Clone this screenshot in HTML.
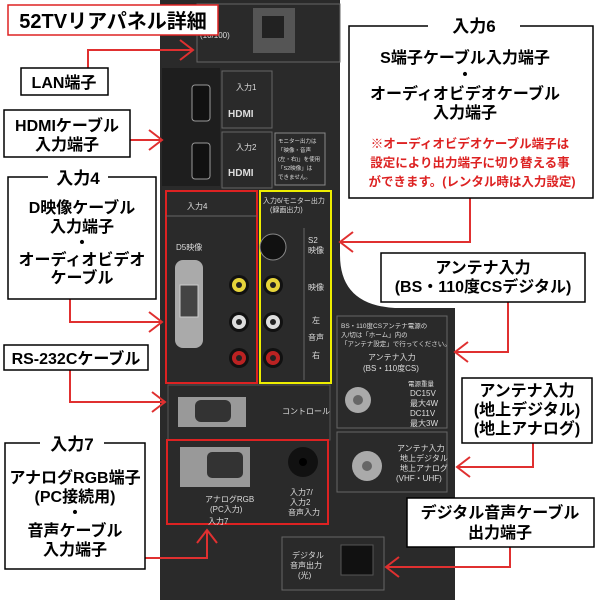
<!DOCTYPE html>
<html><head><meta charset="utf-8"><style>
html,body{margin:0;padding:0;background:#fff;}
svg{display:block;}
text{font-family:"Liberation Sans","Noto Sans CJK JP",sans-serif;}
.b{font-weight:bold;fill:#000;}
.w{fill:#ddd;font-size:8px;}
</style></head><body>
<svg width="600" height="600" viewBox="0 0 600 600" xmlns="http://www.w3.org/2000/svg">
<path d="M160 0 H340 V255 Q340 305 395 308 H455 V600 H160 Z" fill="#2a2a2a"/>
<rect x="197" y="4" width="143" height="58" fill="none" stroke="#666"/>
<text x="200" y="28" class="w">LAN</text><text x="200" y="38" class="w">(10/100)</text>
<rect x="253" y="8" width="42" height="45" fill="#555"/><rect x="262" y="16" width="22" height="22" fill="#222"/>
<rect x="162" y="68" width="58" height="118" fill="#1e1e1e"/>
<rect x="192" y="85" width="18" height="36" rx="3" fill="#111" stroke="#999"/>
<rect x="192" y="143" width="18" height="36" rx="3" fill="#111" stroke="#999"/>
<rect x="222" y="71" width="50" height="57" fill="none" stroke="#666"/>
<rect x="222" y="132" width="50" height="56" fill="none" stroke="#666"/>
<text x="236" y="90" class="w">入力1</text><text x="228" y="117" style="fill:#ddd;font-size:10px;font-weight:bold">HDMI</text>
<text x="236" y="150" class="w">入力2</text><text x="228" y="176" style="fill:#ddd;font-size:10px;font-weight:bold">HDMI</text>
<rect x="275" y="133" width="50" height="52" fill="none" stroke="#888"/>
<text x="278" y="143" style="fill:#ddd;font-size:5.5px">モニター出力は</text>
<text x="278" y="152" style="fill:#ddd;font-size:5.5px">「映像・音声</text>
<text x="278" y="161" style="fill:#ddd;font-size:5.5px">(左・右)」を使用</text>
<text x="278" y="170" style="fill:#ddd;font-size:5.5px">「S2映像」は</text>
<text x="278" y="179" style="fill:#ddd;font-size:5.5px">できません。</text>
<rect x="166" y="191" width="91" height="192" fill="none" stroke="#d22" stroke-width="2"/>
<line x1="166" y1="216" x2="257" y2="216" stroke="#666"/>
<text x="187" y="209" class="w">入力4</text>
<text x="176" y="250" class="w">D5映像</text>
<rect x="175" y="260" width="28" height="88" rx="8" fill="#aaa"/>
<rect x="180" y="285" width="18" height="32" fill="#444" stroke="#ccc"/>
<circle cx="239" cy="285" r="10" fill="#111"/><circle cx="239" cy="285" r="7" fill="#e6d43a"/><circle cx="239" cy="285" r="3" fill="#222"/>
<circle cx="239" cy="322" r="10" fill="#111"/><circle cx="239" cy="322" r="7" fill="#ddd"/><circle cx="239" cy="322" r="3" fill="#222"/>
<circle cx="239" cy="358" r="10" fill="#111"/><circle cx="239" cy="358" r="7" fill="#b22"/><circle cx="239" cy="358" r="3" fill="#222"/>
<rect x="260" y="191" width="71" height="192" fill="none" stroke="#ee0" stroke-width="2"/>
<text x="263" y="203" style="fill:#ddd;font-size:7px">入力6/モニター出力</text>
<text x="270" y="212" style="fill:#ddd;font-size:7px">(録画出力)</text>
<circle cx="273" cy="247" r="13" fill="#111" stroke="#888"/>
<circle cx="273" cy="285" r="10" fill="#111"/><circle cx="273" cy="285" r="7" fill="#e6d43a"/><circle cx="273" cy="285" r="3" fill="#222"/>
<circle cx="273" cy="322" r="10" fill="#111"/><circle cx="273" cy="322" r="7" fill="#ddd"/><circle cx="273" cy="322" r="3" fill="#222"/>
<circle cx="273" cy="358" r="10" fill="#111"/><circle cx="273" cy="358" r="7" fill="#b22"/><circle cx="273" cy="358" r="3" fill="#222"/>
<line x1="304" y1="228" x2="304" y2="380" stroke="#666"/>
<text x="308" y="243" class="w">S2</text><text x="308" y="253" class="w">映像</text>
<text x="308" y="290" class="w">映像</text>
<text x="312" y="323" class="w">左</text><text x="308" y="340" class="w">音声</text><text x="312" y="358" class="w">右</text>
<rect x="168" y="385" width="162" height="55" fill="none" stroke="#555"/>
<rect x="178" y="397" width="68" height="30" fill="#999"/><rect x="195" y="400" width="36" height="22" rx="6" fill="#333"/>
<text x="282" y="414" class="w">コントロール</text>
<rect x="167" y="440" width="161" height="84" fill="none" stroke="#d22" stroke-width="2"/>
<rect x="180" y="447" width="70" height="40" fill="#999"/><rect x="207" y="452" width="36" height="26" rx="5" fill="#333"/>
<circle cx="303" cy="462" r="15" fill="#111"/><circle cx="303" cy="462" r="4" fill="#000"/>
<text x="205" y="502" class="w">アナログRGB</text><text x="210" y="512" class="w">(PC入力)</text>
<text x="208" y="524" class="w">入力7</text>
<text x="290" y="495" class="w">入力7/</text><text x="290" y="505" class="w">入力2</text><text x="288" y="515" class="w">音声入力</text>
<rect x="337" y="316" width="110" height="112" fill="none" stroke="#666"/>
<text x="341" y="328" style="fill:#ddd;font-size:6.5px">BS・110度CSアンテナ電源の</text>
<text x="341" y="337" style="fill:#ddd;font-size:6.5px">入/切は「ホーム」内の</text>
<text x="341" y="346" style="fill:#ddd;font-size:6.5px">「アンテナ設定」で行ってください。</text>
<text x="368" y="360" class="w">アンテナ入力</text><text x="363" y="371" class="w">(BS・110度CS)</text>
<circle cx="358" cy="400" r="13" fill="#aaa"/><circle cx="358" cy="400" r="5" fill="#666"/>
<text x="408" y="386" style="fill:#ddd;font-size:6.5px">電源重量</text>
<text x="410" y="396" class="w">DC15V</text><text x="410" y="406" class="w">最大4W</text>
<text x="410" y="416" class="w">DC11V</text><text x="410" y="426" class="w">最大3W</text>
<rect x="337" y="432" width="110" height="60" fill="none" stroke="#666"/>
<circle cx="367" cy="466" r="15" fill="#aaa"/><circle cx="367" cy="466" r="5" fill="#666"/>
<text x="397" y="451" class="w">アンテナ入力</text><text x="400" y="461" class="w">地上デジタル</text>
<text x="400" y="471" class="w">地上アナログ</text><text x="396" y="481" class="w">(VHF・UHF)</text>
<rect x="282" y="537" width="102" height="53" fill="none" stroke="#666"/>
<text x="292" y="558" class="w">デジタル</text><text x="290" y="568" class="w">音声出力</text><text x="298" y="578" class="w">(光)</text>
<rect x="341" y="545" width="32" height="30" fill="#111" stroke="#555"/>

<g fill="none" stroke="#e03030" stroke-width="2">
<polyline points="88,68 88,50 193,50"/><polyline points="180,40 193,50 180,60"/>
<line x1="130" y1="140" x2="162" y2="140"/><polyline points="149,130 162,140 149,150"/>
<polyline points="70,298 70,322 162,322"/><polyline points="149,312 162,322 149,332"/>
<polyline points="70,370 70,402 165,402"/><polyline points="152,392 165,402 152,412"/>
<polyline points="145,558 207,558 207,530"/><polyline points="197,543 207,530 217,543"/>
<polyline points="470,198 470,242 340,242"/><polyline points="353,232 340,242 353,252"/>
<polyline points="508,302 508,352 455,352"/><polyline points="468,342 455,352 468,362"/>
<polyline points="533,443 533,467 457,467"/><polyline points="470,457 457,467 470,477"/>
<polyline points="510,547 510,567 386,567"/><polyline points="399,557 386,567 399,577"/>
</g>

<g fill="#fff" stroke="#000" stroke-width="1.5">
<rect x="8" y="5" width="210" height="30" stroke="#d22"/>
<rect x="21" y="68" width="87" height="27"/>
<rect x="4" y="110" width="126" height="47"/>
<rect x="8" y="177" width="148" height="122"/>
<rect x="4" y="345" width="144" height="25"/>
<rect x="5" y="443" width="140" height="126"/>
<rect x="349" y="26" width="244" height="172"/>
<rect x="381" y="253" width="204" height="49"/>
<rect x="462" y="378" width="130" height="65"/>
<rect x="407" y="498" width="187" height="49"/>
</g>
<rect x="48" y="170" width="60" height="14" fill="#fff"/>
<rect x="40" y="436" width="64" height="14" fill="#fff"/>
<rect x="428" y="18" width="92" height="16" fill="#fff"/>

<g class="b" text-anchor="middle">
<text x="113" y="28" style="font-size:20px">52TVリアパネル詳細</text>
<text x="64" y="88" style="font-size:16px">LAN端子</text>
<text x="67" y="131" style="font-size:16px">HDMIケーブル</text>
<text x="67" y="150" style="font-size:16px">入力端子</text>
<text x="78" y="184" style="font-size:17px">入力4</text>
<text x="82" y="213" style="font-size:16px">D映像ケーブル</text>
<text x="82" y="232" style="font-size:16px">入力端子</text>
<text x="82" y="248" style="font-size:16px">・</text>
<text x="82" y="265" style="font-size:16px">オーディオビデオ</text>
<text x="82" y="283" style="font-size:16px">ケーブル</text>
<text x="76" y="364" style="font-size:16px">RS-232Cケーブル</text>
<text x="72" y="450" style="font-size:17px">入力7</text>
<text x="75" y="483" style="font-size:16px">アナログRGB端子</text>
<text x="75" y="502" style="font-size:16px">(PC接続用)</text>
<text x="75" y="518" style="font-size:16px">・</text>
<text x="75" y="536" style="font-size:16px">音声ケーブル</text>
<text x="75" y="555" style="font-size:16px">入力端子</text>
<text x="474" y="32" style="font-size:17px">入力6</text>
<text x="465" y="63" style="font-size:16px">S端子ケーブル入力端子</text>
<text x="465" y="80" style="font-size:16px">・</text>
<text x="465" y="99" style="font-size:16px">オーディオビデオケーブル</text>
<text x="465" y="118" style="font-size:16px">入力端子</text>
<text x="470" y="148" style="font-size:12.5px;fill:#d22">※オーディオビデオケーブル端子は</text>
<text x="470" y="167" style="font-size:12.5px;fill:#d22">設定により出力端子に切り替える事</text>
<text x="472" y="186" style="font-size:12.5px;fill:#d22">ができます。(レンタル時は入力設定)</text>
<text x="483" y="273" style="font-size:16px">アンテナ入力</text>
<text x="483" y="292" style="font-size:16px">(BS・110度CSデジタル)</text>
<text x="527" y="396" style="font-size:16px">アンテナ入力</text>
<text x="527" y="415" style="font-size:16px">(地上デジタル)</text>
<text x="527" y="434" style="font-size:16px">(地上アナログ)</text>
<text x="500" y="518" style="font-size:16px">デジタル音声ケーブル</text>
<text x="500" y="538" style="font-size:16px">出力端子</text>
</g>
</svg>
</body></html>
